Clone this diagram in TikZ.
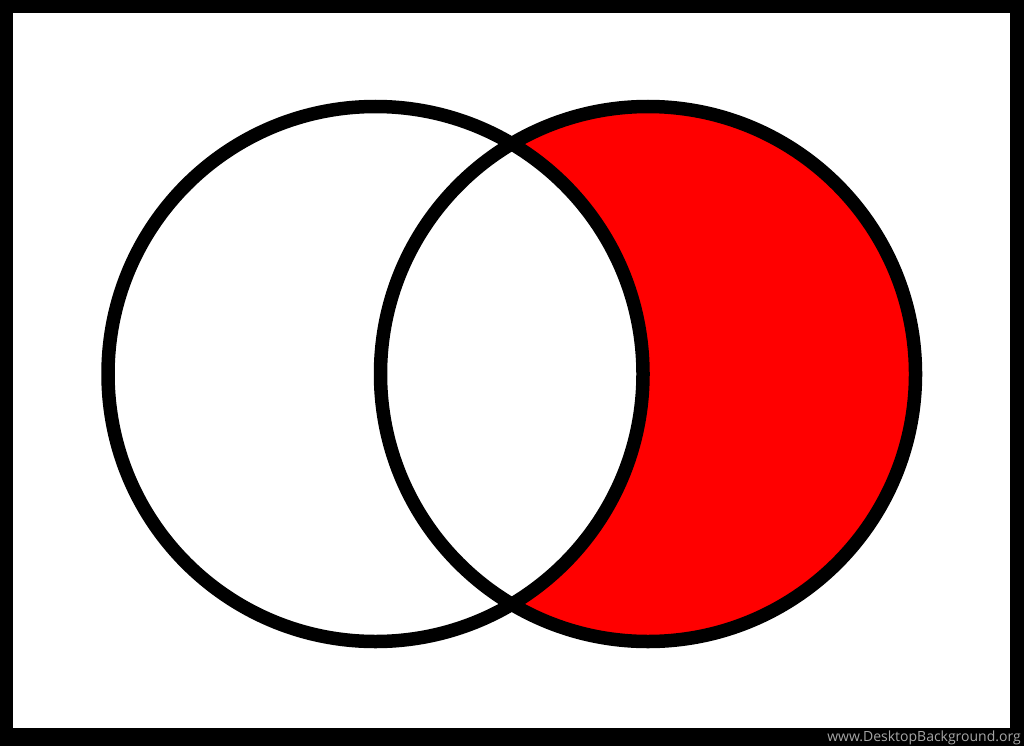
\documentclass[tikz,border=0pt]{standalone}
\usepackage{fontspec}
\setsansfont{Open Sans}
\usepackage{tikz}

\begin{document}
\begin{tikzpicture}[x=1pt, y=-1pt]
   % frame
   \fill[black] (0,0) rectangle (1024,746);
   \fill[white] (13,13) rectangle (1010,728);

   \coordinate (setA) at (375.5,374);
   \coordinate (setB) at (648,374);

   % B minus A
   \fill[red] (setB) circle (267.5);
   \fill[white] (setA) circle (267.5);

   \draw[line width=13.5pt] (setA) circle (267.5);
   \draw[line width=13.5pt] (setB) circle (267.5);

   \node[anchor=base east, inner sep=0pt, text=black!35,
         font=\sffamily\fontsize{14}{14}\selectfont] (mark) at (1021,741) {www.DesktopBackground.org};
\end{tikzpicture}
\end{document}
